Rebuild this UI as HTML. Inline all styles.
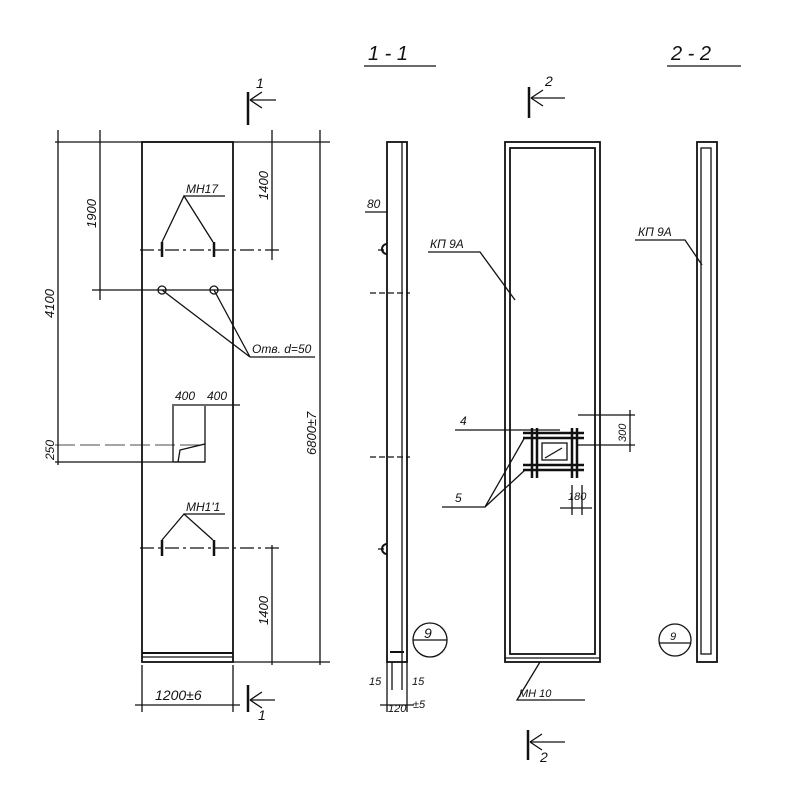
<!DOCTYPE html><html><head><style>body{margin:0;background:#fff}svg{display:block}text{font-family:"Liberation Sans",sans-serif;font-style:italic;fill:#111}</style></head><body>
<svg width="800" height="800" viewBox="0 0 800 800" stroke="#111" fill="none" stroke-width="1.3">
<text x="368" y="60" font-size="20" stroke="none">1 - 1</text><line x1="364" y1="66" x2="436" y2="66"/>
<text x="671" y="60" font-size="20" stroke="none">2 - 2</text><line x1="667" y1="66" x2="741" y2="66"/>
<line x1="248" y1="92" x2="248" y2="125" stroke-width="2.5"/><line x1="250" y1="100" x2="276" y2="100"/><path d="M250 100 L262 92 M250 100 L262 108"/><text x="256" y="88" font-size="14" stroke="none">1</text>
<line x1="248" y1="685" x2="248" y2="712" stroke-width="2.5"/><line x1="250" y1="700" x2="275" y2="700"/><path d="M250 700 L262 692 M250 700 L262 708"/><text x="258" y="720" font-size="14" stroke="none">1</text>
<line x1="529" y1="87" x2="529" y2="118" stroke-width="2.5"/><line x1="531" y1="98" x2="565" y2="98"/><path d="M531 98 L543 90 M531 98 L543 106"/><text x="545" y="86" font-size="14" stroke="none">2</text>
<line x1="528" y1="730" x2="528" y2="760" stroke-width="2.5"/><line x1="530" y1="742" x2="565" y2="742"/><path d="M530 742 L542 734 M530 742 L542 750"/><text x="540" y="762" font-size="14" stroke="none">2</text>
<rect x="142" y="142" width="91" height="520" stroke-width="1.8"/>
<line x1="142" y1="653" x2="233" y2="653" stroke-width="2"/><line x1="142" y1="657" x2="233" y2="657"/>
<line x1="55" y1="142" x2="330" y2="142"/>
<line x1="58" y1="130" x2="58" y2="465"/><line x1="100" y1="130" x2="100" y2="300"/><line x1="320" y1="130" x2="320" y2="665"/><line x1="272" y1="130" x2="272" y2="260"/><line x1="272" y1="545" x2="272" y2="665"/>
<line x1="92" y1="290" x2="233" y2="290"/><line x1="140" y1="250" x2="283" y2="250" stroke-dasharray="14,4,3,4"/>
<line x1="55" y1="462" x2="205" y2="462"/><line x1="55" y1="445" x2="205" y2="445" stroke-dasharray="20,5" stroke-width="0.8"/>
<line x1="233" y1="662" x2="330" y2="662"/><line x1="140" y1="548" x2="283" y2="548" stroke-dasharray="14,4,3,4"/>
<text transform="translate(96,228) rotate(-90)" font-size="13" stroke="none">1900</text>
<text transform="translate(54,318) rotate(-90)" font-size="13" stroke="none">4100</text>
<text transform="translate(268,200) rotate(-90)" font-size="13" stroke="none">1400</text>
<text transform="translate(268,625) rotate(-90)" font-size="13" stroke="none">1400</text>
<text transform="translate(316,455) rotate(-90)" font-size="13" stroke="none">6800±7</text>
<text transform="translate(54,460) rotate(-90)" font-size="12" stroke="none">250</text>
<circle cx="162" cy="290" r="4"/><circle cx="214" cy="290" r="4"/>
<line x1="162" y1="242" x2="162" y2="257" stroke-width="2.5"/><line x1="214" y1="242" x2="214" y2="257" stroke-width="2.5"/>
<path d="M162 242 L184 196 L213 242 M184 196 L225 196"/><text x="186" y="193" font-size="12" stroke="none">МН17</text>
<path d="M162 290 L250 357 L214 290 M250 357 L315 357"/><text x="252" y="353" font-size="12" stroke="none">Отв. d=50</text>
<line x1="162" y1="540" x2="162" y2="556" stroke-width="2.5"/><line x1="214" y1="540" x2="214" y2="556" stroke-width="2.5"/>
<path d="M162 540 L184 514 L213 540 M184 514 L225 514"/><text x="186" y="511" font-size="12" stroke="none">МН1'1</text>
<path d="M173 462 L173 406 M205 462 L205 406 M172 405 L240 405 M173 462 L205 462 L205 444 L180 450 L178 462"/>
<text x="175" y="400" font-size="12" stroke="none">400</text><text x="207" y="400" font-size="12" stroke="none">400</text>
<line x1="142" y1="665" x2="142" y2="712"/><line x1="233" y1="665" x2="233" y2="712"/><line x1="135" y1="705" x2="240" y2="705"/>
<text x="155" y="700" font-size="14" stroke="none">1200±6</text>
<rect x="387" y="142" width="20" height="520" stroke-width="1.8"/><line x1="402" y1="142" x2="402" y2="662"/>
<line x1="390" y1="652" x2="404" y2="652" stroke-width="2"/>
<path d="M378 250 h8 M378 549 h8 M370 293 h40 M370 457 h40" stroke-dasharray="6,3"/>
<path d="M387 244 a5 5 0 0 0 0 10 M387 544 a5 5 0 0 0 0 10" stroke-width="2"/>
<text x="367" y="208" font-size="12" stroke="none">80</text><line x1="365" y1="212" x2="387" y2="212"/>
<circle cx="430" cy="640" r="17"/><line x1="413" y1="640" x2="447" y2="640"/><text x="424" y="638" font-size="14" stroke="none">9</text>
<path d="M387 662 V712 M392 662 V690 M402 662 V690 M407 662 V712 M380 705 H414"/>
<text x="369" y="685" font-size="11" stroke="none">15</text><text x="412" y="685" font-size="11" stroke="none">15</text>
<text x="388" y="712" font-size="11" stroke="none">120</text><text x="413" y="708" font-size="11" stroke="none">±5</text>
<rect x="505" y="142" width="95" height="520" stroke-width="1.8"/><rect x="510" y="148" width="85" height="506" stroke-width="1.8"/>
<line x1="505" y1="658" x2="600" y2="658"/>
<path d="M428 252 L480 252 L515 300"/><text x="430" y="248" font-size="12" stroke="none">КП 9А</text>
<g stroke-width="2.5"><path d="M532 428 V478 M537 428 V478 M572 428 V478 M577 428 V478 M523 433 H584 M523 438 H584 M523 465 H584 M523 470 H584"/></g>
<rect x="542" y="443" width="25" height="17"/><path d="M545 458 L562 448"/>
<path d="M455 430 H560 M578 415 H635 M578 445 H635 M630 410 V452 M572 485 V515 M582 485 V515 M560 508 H592"/>
<text x="460" y="425" font-size="12" stroke="none">4</text><text x="455" y="502" font-size="12" stroke="none">5</text>
<text transform="translate(626,442) rotate(-90)" font-size="11" stroke="none">300</text><text x="568" y="500" font-size="11" stroke="none">180</text>
<path d="M442 507 L485 507 L525 437 M485 507 L525 470"/>
<path d="M540 662 L517 700 L585 700"/><text x="519" y="697" font-size="11" stroke="none">МН 10</text>
<rect x="697" y="142" width="20" height="520" stroke-width="1.8"/><rect x="701" y="148" width="10" height="506"/>
<path d="M635 240 L685 240 L702 265"/><text x="638" y="236" font-size="12" stroke="none">КП 9А</text>
<circle cx="675" cy="640" r="16"/><line x1="659" y1="643" x2="691" y2="643"/><text x="670" y="640" font-size="11" stroke="none">9</text>
</svg></body></html>
